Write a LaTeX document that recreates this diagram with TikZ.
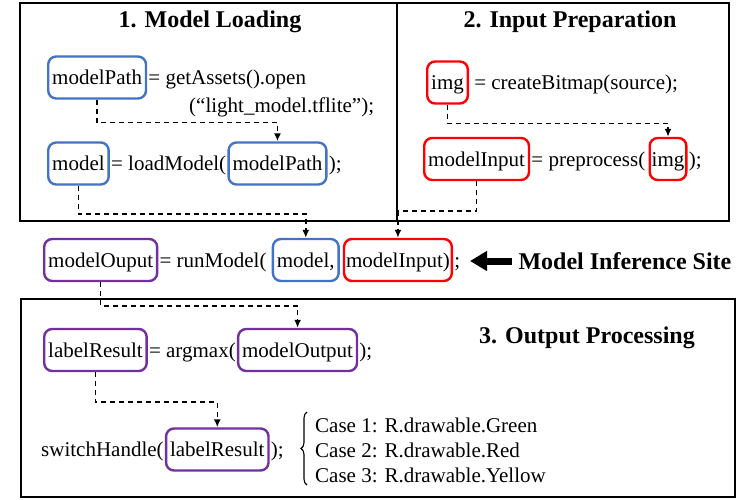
\documentclass[tikz,border=0pt]{standalone}
\usepackage{fontspec}
\setmainfont{Liberation Serif}
\usetikzlibrary{positioning,arrows.meta,decorations.pathreplacing}
\definecolor{varblue}{HTML}{4472C4}
\definecolor{varred}{HTML}{FF0000}
\definecolor{varpurple}{HTML}{7030A0}
\tikzset{
  code/.style={font=\fontsize{21}{25}\selectfont, text height=17pt, text depth=3pt,
    minimum height=42pt, inner xsep=1pt, inner ysep=0pt},
  var/.style={code, draw=#1, line width=2.4pt, rounded corners=8pt, inner xsep=4pt},
  heading/.style={font=\fontsize{24}{28}\selectfont\bfseries},
  flow/.style={dash pattern=on 5pt off 4pt, line width=1.6pt, -{Latex[length=8pt,width=7pt]}},
  frame/.style={line width=2.2pt}
}

\begin{document}
\begin{tikzpicture}[x=1pt,y=-1pt]
\useasboundingbox (0,0) rectangle (747,500);
\draw[frame] (20,3) rectangle (397,221);
\draw[frame] (397,3) rectangle (729,221);
\draw[frame] (21,299) rectangle (735,497);

\node[heading] (title1) at (210,22) {1. Model Loading};
\node[heading] (title2) at (570,22) {2. Input Preparation};
\node[heading] (title3) at (587,338) {3. Output Processing};

\node[var=varblue, anchor=west] (mpath) at (47,77.5) {modelPath};
\node[code, base right=0pt of mpath] (eq1) {= getAssets().open};
\node[code, anchor=base west] (eq1b) at (188,113) {(“light\_model.tflite”);};

\node[var=varblue, anchor=west] (mdl) at (47,163.5) {model};
\node[code, base right=0pt of mdl] (eq2) {= loadModel(};
\node[var=varblue, base right=0pt of eq2] (mpath2) {modelPath};
\node[code, base right=0pt of mpath2] (end2) {);};

\node[var=varred, anchor=west] (img) at (426,82.5) {img};
\node[code, base right=4pt of img] (eq3) {= createBitmap(source);};

\node[var=varred, anchor=west] (minput) at (423,159) {modelInput};
\node[code, base right=0pt of minput] (eq4) {= preprocess(};
\node[var=varred, base right=2pt of eq4, inner xsep=2pt] (img2) {img};
\node[code, base right=0pt of img2] (end4) {);};

\node[var=varpurple, anchor=west] (mout) at (43,260) {modelOuput};
\node[code, base right=0pt of mout] (eq5) {= runModel(};
\node[var=varblue, base right=4pt of eq5] (mdl2) {model,};
\node[var=varred, base right=3pt of mdl2, inner xsep=2pt] (minput2) {modelInput)};
\node[code, base right=0pt of minput2] (end5) {;};
\node[heading, anchor=west] (site) at (515,261) {Model Inference Site};
\draw[line width=7pt, -{Triangle[length=17pt,width=19pt]}] ([xshift=-3pt]site.west) -- ++(-42,0);

\node[var=varpurple, anchor=west] (lres) at (43,350) {labelResult};
\node[code, base right=0pt of lres] (eq6) {= argmax(};
\node[var=varpurple, base right=0pt of eq6] (mout2) {modelOutput};
\node[code, base right=0pt of mout2] (end6) {);};

\node[code, anchor=west] (switch) at (40,449.5) {switchHandle(};
\node[var=varpurple, base right=0pt of switch] (lres2) {labelResult};
\node[code, base right=0pt of lres2] (end7) {);};
\draw[line width=1.1pt, decorate, decoration={brace, amplitude=6pt}] (307,485) -- (307,412);
\node[code, anchor=west] (case1) at (314,425) {Case 1: R.drawable.Green};
\node[code, anchor=west] (case2) at (314,450) {Case 2: R.drawable.Red};
\node[code, anchor=west] (case3) at (314,475) {Case 3: R.drawable.Yellow};

\draw[flow] (mpath.south) -- ++(0,23) -| (mpath2.north);
\draw[flow] (mdl.south) -- ++(0,28) -| (mdl2.north);
\draw[flow] (img.south) -- ++(0,19) -| (img2.north);
\draw[flow] (minput.south) -- ++(0,30) -| (minput2.north);
\draw[flow] (mout.south) -- ++(0,24) -| (mout2.north);
\draw[flow] (lres.south) -- ++(0,30) -| (lres2.north);
\end{tikzpicture}
\end{document}
